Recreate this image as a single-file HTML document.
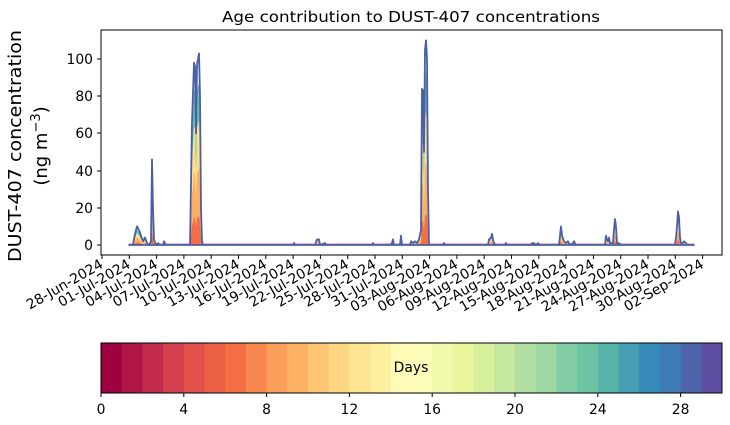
<!DOCTYPE html>
<html><head><meta charset="utf-8"><style>body{margin:0;background:#fff}svg{display:block}text{font-family:"DejaVu Sans","Liberation Sans",sans-serif;fill:#000}</style></head><body>
<svg width="730" height="425" viewBox="0 0 730 425" xmlns="http://www.w3.org/2000/svg">
<defs>
<polygon id="d" points="129,245 133,245 135,233.8 137,226.4 139,230.1 141,235.7 143,241.3 145,237.6 147,243.1 149,245 151,241.3 152,159.4 153,207.8 154,239.4 156,245 158,243.1 160,245 163,245 164,241.3 166,245 190,245 192,122.2 194,62.7 195,66.4 196,133.4 197,64.6 199,53.4 200,96.2 201,207.8 202,241.3 203,245 293,245 294,243.1 295,245 315,245 317,239.4 319,239.4 320,245 325,243.1 326,245 372,245 373,243.1 374,245 390,245 392,243.1 393,239.4 394,245 400,245 401,235.7 402,245 410,245 411,241.3 413,243.1 415,241.3 417,243.1 419,239.4 421,230.1 422,88.8 423,90.6 424,152 425,49.7 426,40.4 427,59 428,189 429,245 443,245 444,243.1 445,245 488,245 489,239.4 491,237.6 492,233.8 493,239.4 494,243.1 496,245 505,245 506,243.1 507,245 531,245 532,243.1 534,243.1 536,245 538,243.1 540,245 559,245 560,235.7 561,226.4 562,235.7 564,241.3 566,243.1 568,241.3 570,245 573,243.1 574,241.3 576,245 605,245 606,235.7 607,239.4 608,241.3 609,237.6 610,243.1 613,243.1 614,230.1 615,219 616,226.4 617,243.1 619,243.1 621,245 675,245 676,237.6 677,226.4 678,211.5 679,217.1 680,237.6 681,243.1 683,243.1 684,241.3 686,243.1 687,245 694,245"/>
</defs>
<text x="411" y="22" font-size="15" text-anchor="middle" textLength="378" lengthAdjust="spacingAndGlyphs">Age contribution to DUST-407 concentrations</text>
<rect x="101" y="30" width="621" height="225" fill="none" stroke="#000" stroke-width="1"/>
<line x1="129" y1="244" x2="694" y2="244" stroke="#e07070" stroke-width="1"/>
<use href="#d" fill="#66c2a5" transform="translate(0,245) scale(1,0.85) translate(0,-245)"/>
<use href="#d" fill="#fee08b" transform="translate(0,245) scale(1,0.65) translate(0,-245)"/>
<use href="#d" fill="#fdae61" transform="translate(0,245) scale(1,0.4) translate(0,-245)"/>
<use href="#d" fill="#f46d43" transform="translate(0,245) scale(1,0.15) translate(0,-245)"/>
<use href="#d" fill="none" stroke="#4a5fa8" stroke-width="1.8" stroke-linejoin="round"/>
<g font-size="13.9" text-anchor="end">
<line x1="97" y1="245" x2="101" y2="245" stroke="#000"/><text x="93" y="250">0</text>
<line x1="97" y1="208" x2="101" y2="208" stroke="#000"/><text x="93" y="213">20</text>
<line x1="97" y1="171" x2="101" y2="171" stroke="#000"/><text x="93" y="176">40</text>
<line x1="97" y1="133" x2="101" y2="133" stroke="#000"/><text x="93" y="138">60</text>
<line x1="97" y1="96" x2="101" y2="96" stroke="#000"/><text x="93" y="101">80</text>
<line x1="97" y1="59" x2="101" y2="59" stroke="#000"/><text x="93" y="64">100</text>
</g>
<g font-size="18" text-anchor="middle">
<text transform="translate(21,146) rotate(-90)" textLength="232" lengthAdjust="spacingAndGlyphs">DUST-407 concentration</text>
<text transform="translate(47,146) rotate(-90)">(ng m<tspan dy="-7" font-size="13">−3</tspan><tspan dy="7">)</tspan></text>
</g>
<g stroke="#000">
<line x1="102" y1="255" x2="102" y2="259"/><line x1="129.3" y1="255" x2="129.3" y2="259"/><line x1="156.6" y1="255" x2="156.6" y2="259"/><line x1="183.9" y1="255" x2="183.9" y2="259"/><line x1="211.2" y1="255" x2="211.2" y2="259"/><line x1="238.5" y1="255" x2="238.5" y2="259"/><line x1="265.8" y1="255" x2="265.8" y2="259"/><line x1="293.1" y1="255" x2="293.1" y2="259"/><line x1="320.4" y1="255" x2="320.4" y2="259"/><line x1="347.7" y1="255" x2="347.7" y2="259"/><line x1="375" y1="255" x2="375" y2="259"/><line x1="402.3" y1="255" x2="402.3" y2="259"/><line x1="429.6" y1="255" x2="429.6" y2="259"/><line x1="456.9" y1="255" x2="456.9" y2="259"/><line x1="484.2" y1="255" x2="484.2" y2="259"/><line x1="511.5" y1="255" x2="511.5" y2="259"/><line x1="538.8" y1="255" x2="538.8" y2="259"/><line x1="566.1" y1="255" x2="566.1" y2="259"/><line x1="593.4" y1="255" x2="593.4" y2="259"/><line x1="620.7" y1="255" x2="620.7" y2="259"/><line x1="648" y1="255" x2="648" y2="259"/><line x1="675.3" y1="255" x2="675.3" y2="259"/><line x1="702.6" y1="255" x2="702.6" y2="259"/>
</g>
<g font-size="13.9" text-anchor="end">
<text transform="translate(104,267) rotate(-30)">28-Jun-2024</text>
<text transform="translate(131.3,267) rotate(-30)">01-Jul-2024</text>
<text transform="translate(158.6,267) rotate(-30)">04-Jul-2024</text>
<text transform="translate(185.9,267) rotate(-30)">07-Jul-2024</text>
<text transform="translate(213.2,267) rotate(-30)">10-Jul-2024</text>
<text transform="translate(240.5,267) rotate(-30)">13-Jul-2024</text>
<text transform="translate(267.8,267) rotate(-30)">16-Jul-2024</text>
<text transform="translate(295.1,267) rotate(-30)">19-Jul-2024</text>
<text transform="translate(322.4,267) rotate(-30)">22-Jul-2024</text>
<text transform="translate(349.7,267) rotate(-30)">25-Jul-2024</text>
<text transform="translate(377,267) rotate(-30)">28-Jul-2024</text>
<text transform="translate(404.3,267) rotate(-30)">31-Jul-2024</text>
<text transform="translate(431.6,267) rotate(-30)">03-Aug-2024</text>
<text transform="translate(458.9,267) rotate(-30)">06-Aug-2024</text>
<text transform="translate(486.2,267) rotate(-30)">09-Aug-2024</text>
<text transform="translate(513.5,267) rotate(-30)">12-Aug-2024</text>
<text transform="translate(540.8,267) rotate(-30)">15-Aug-2024</text>
<text transform="translate(568.1,267) rotate(-30)">18-Aug-2024</text>
<text transform="translate(595.4,267) rotate(-30)">21-Aug-2024</text>
<text transform="translate(622.7,267) rotate(-30)">24-Aug-2024</text>
<text transform="translate(650,267) rotate(-30)">27-Aug-2024</text>
<text transform="translate(677.3,267) rotate(-30)">30-Aug-2024</text>
<text transform="translate(704.6,267) rotate(-30)">02-Sep-2024</text>
</g>
<g transform="translate(101,343)">
<rect x="0" width="21.5" height="50" fill="#9e0142"/><rect x="20.7" width="21.5" height="50" fill="#b11547"/><rect x="41.4" width="21.5" height="50" fill="#c42a4c"/><rect x="62.1" width="21.5" height="50" fill="#d6404e"/><rect x="82.8" width="21.5" height="50" fill="#e2504a"/><rect x="103.5" width="21.5" height="50" fill="#ec6046"/><rect x="124.2" width="21.5" height="50" fill="#f47044"/><rect x="144.9" width="21.5" height="50" fill="#f8874f"/><rect x="165.6" width="21.5" height="50" fill="#fb9e5a"/><rect x="186.3" width="21.5" height="50" fill="#fdb164"/><rect x="207" width="21.5" height="50" fill="#fdc574"/><rect x="227.7" width="21.5" height="50" fill="#fed683"/><rect x="248.4" width="21.5" height="50" fill="#fee491"/><rect x="269.1" width="21.5" height="50" fill="#feef9f"/><rect x="289.8" width="21.5" height="50" fill="#fffab8"/><rect x="310.5" width="21.5" height="50" fill="#fbfdb9"/><rect x="331.2" width="21.5" height="50" fill="#f1f9aa"/><rect x="351.9" width="21.5" height="50" fill="#e9f69c"/><rect x="372.6" width="21.5" height="50" fill="#d8ef9c"/><rect x="393.3" width="21.5" height="50" fill="#c5e7a0"/><rect x="414" width="21.5" height="50" fill="#b1dfa3"/><rect x="434.7" width="21.5" height="50" fill="#9dd7a4"/><rect x="455.4" width="21.5" height="50" fill="#82cda5"/><rect x="476.1" width="21.5" height="50" fill="#6cc4a5"/><rect x="496.8" width="21.5" height="50" fill="#58b4aa"/><rect x="517.5" width="21.5" height="50" fill="#469fb3"/><rect x="538.2" width="21.5" height="50" fill="#368bbb"/><rect x="558.9" width="21.5" height="50" fill="#3f7bb6"/><rect x="579.6" width="21.5" height="50" fill="#4f65ab"/><rect x="600.3" width="20.7" height="50" fill="#5e4fa2"/>
<rect x="0" y="0" width="621" height="50" fill="none" stroke="#000" stroke-width="1"/>
<text x="310" y="29" font-size="13.9" text-anchor="middle">Days</text>
<g stroke="#000"><line x1="0" y1="50" x2="0" y2="54"/><line x1="82.8" y1="50" x2="82.8" y2="54"/><line x1="165.6" y1="50" x2="165.6" y2="54"/><line x1="248.4" y1="50" x2="248.4" y2="54"/><line x1="331.2" y1="50" x2="331.2" y2="54"/><line x1="414" y1="50" x2="414" y2="54"/><line x1="496.8" y1="50" x2="496.8" y2="54"/><line x1="579.6" y1="50" x2="579.6" y2="54"/></g>
<g font-size="13.9" text-anchor="middle"><text x="0" y="71">0</text><text x="82.8" y="71">4</text><text x="165.6" y="71">8</text><text x="248.4" y="71">12</text><text x="331.2" y="71">16</text><text x="414" y="71">20</text><text x="496.8" y="71">24</text><text x="579.6" y="71">28</text></g>
</g>
</svg>
</body></html>
